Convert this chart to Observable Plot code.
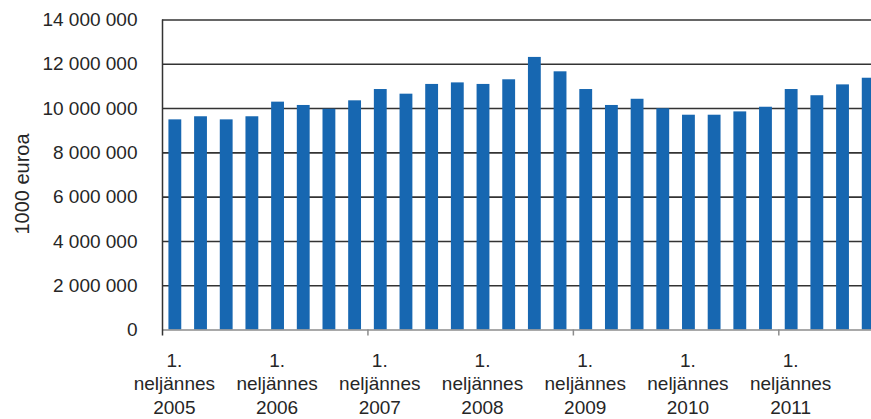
<!DOCTYPE html>
<html><head><meta charset="utf-8">
<script src="https://cdn.jsdelivr.net/npm/d3@7"></script>
<script src="https://cdn.jsdelivr.net/npm/@observablehq/plot@0.6"></script>
<style>body{margin:0;background:#fff} svg{overflow:hidden;display:block}</style>
</head><body><div id="chart"></div>
<script>
// Data
const years = [2005, 2006, 2007, 2008, 2009, 2010, 2011];
const quarterNums = [1, 2, 3, 4];
const values = [
  9490000, 9630000, 9490000, 9630000,
  10290000, 10140000, 9970000, 10350000,
  10860000, 10650000, 11090000, 11160000,
  11090000, 11300000, 12310000, 11660000,
  10860000, 10140000, 10420000, 9990000,
  9700000, 9700000, 9850000, 10060000,
  10860000, 10580000, 11070000, 11370000
];
const yTicks = [0, 2000000, 4000000, 6000000, 8000000, 10000000, 12000000, 14000000];
const axisTickYears = [2005, 2007, 2009, 2011];
const axisTitle = "1000 euroa";
const quarterWord = "neljännes";

const quarters = years.flatMap(y => quarterNums.map(q => `${y}Q${q}`));
const data = quarters.map((q, i) => ({q, v: values[i]}));
const q1s = years.map(y => `${y}Q1`);
const tickQs = axisTickYears.map(y => `${y}Q1`);

const W = 871, H = 419, ML = 162, MT = 19.5, MB = 89.5;
const step = 25.68;
const fmt = d => d3.format(",")(d).replace(/,/g, " ");

const chart = Plot.plot({
  width: W, height: H,
  marginLeft: ML, marginRight: 0, marginTop: MT, marginBottom: MB,
  style: {fontFamily: "'Liberation Sans', Arial, sans-serif", fontSize: "19px", color: "#262626", background: "#fff"},
  x: {domain: quarters, range: [ML, ML + step * quarters.length], round: false, paddingInner: 0.5, paddingOuter: 0.25, axis: null},
  y: {domain: [0, 14000000], axis: null},
  marks: [
    Plot.gridY(yTicks.filter(d => d > 0), {stroke: "#333", strokeOpacity: 1, strokeWidth: 1.6}),
    Plot.barY(data, {x: "q", y: "v", fill: "#1767b1"}),
    Plot.ruleY([0], {stroke: "#8c8c8c", strokeWidth: 1.5}),
    Plot.ruleX(tickQs.slice(1), {x: d => d, dx: -step / 2, y1: 0, y2: 0, insetTop: 6, stroke: "#8c8c8c", strokeWidth: 1.5}),
    Plot.ruleX([tickQs[0]], {x: d => d, dx: -step / 2, y1: 0, y2: 14000000, insetTop: 6, stroke: "#333", strokeWidth: 1.5}),
    Plot.axisY(yTicks, {tickSize: 0, tickPadding: 25, tickFormat: fmt, label: null, fontSize: 19, fill: "#262626"}),
    Plot.text(q1s, {x: d => d, dx: -1, frameAnchor: "bottom", lineAnchor: "top", dy: 20.3, lineHeight: 1.23,
      text: d => `1.\n${quarterWord}\n${d.slice(0, 4)}`, fontSize: 19, fill: "#262626"}),
    Plot.text([axisTitle], {frameAnchor: "left", textAnchor: "middle", lineAnchor: "middle", rotate: -90, dx: -140, dy: 9, fontSize: 20, fill: "#262626"})
  ]
});
document.getElementById("chart").append(chart);
</script>
</body></html>
